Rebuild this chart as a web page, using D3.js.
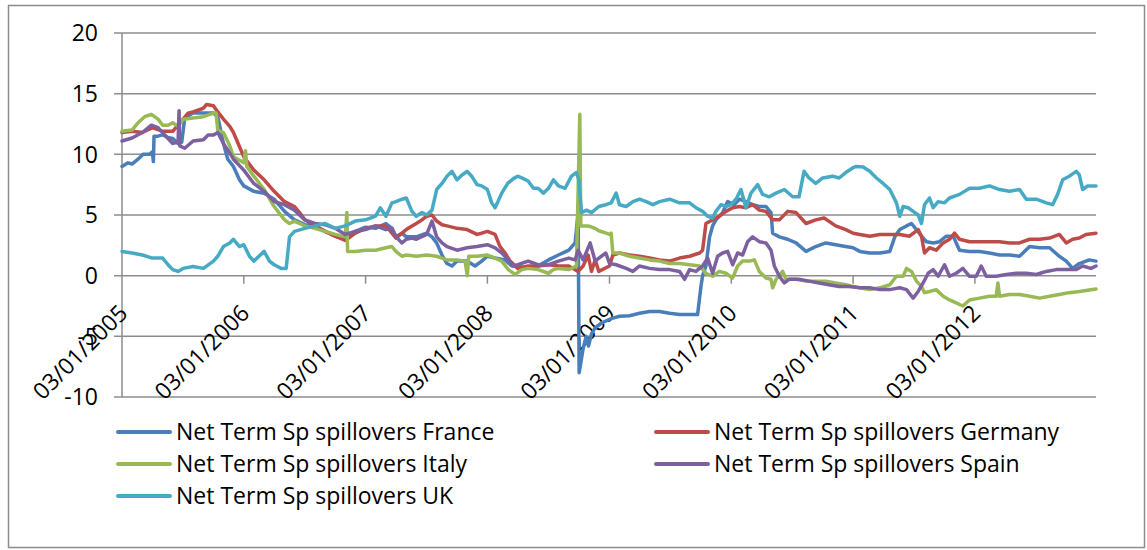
<!DOCTYPE html>
<html>
<head>
<meta charset="utf-8">
<script src="https://cdn.jsdelivr.net/npm/d3@7"></script>
<style>
  body { margin: 0; background: #fff; }
  text { font-family: "Open Sans", sans-serif; fill: #000; }
</style>
</head>
<body>
<div id="chart"></div>
<script>
// series names and colours (Excel 2007 default palette)
const seriesNames = ["Net Term Sp spillovers France", "Net Term Sp spillovers Germany",
  "Net Term Sp spillovers Italy", "Net Term Sp spillovers Spain", "Net Term Sp spillovers UK"];
const seriesColors = ["#4a7ebb", "#be4b48", "#98b954", "#7d60a0", "#46aac5"];

const yTicks = [-10, -5, 0, 5, 10, 15, 20];
const xTickYears = [2005, 2006, 2007, 2008, 2009, 2010, 2011, 2012];

// points are [years counted from 03/01/2005 (+2005), value]
const france = [
  [2005.000, 9.0], [2005.049, 9.3], [2005.082, 9.2], [2005.131, 9.6], [2005.172, 10.0], [2005.227, 10.0],
  [2005.249, 10.2], [2005.256, 9.4], [2005.262, 11.5], [2005.295, 11.5], [2005.333, 11.6], [2005.377, 11.4],
  [2005.415, 11.3], [2005.459, 10.9], [2005.490, 11.0], [2005.514, 13.0], [2005.582, 13.4], [2005.667, 13.4],
  [2005.749, 13.4], [2005.787, 13.1], [2005.833, 10.9], [2005.869, 9.6], [2005.915, 9.0], [2005.964, 7.9],
  [2006.000, 7.4], [2006.082, 6.95], [2006.167, 6.8], [2006.249, 6.3], [2006.333, 5.3], [2006.415, 4.6],
  [2006.500, 4.2], [2006.582, 4.1], [2006.667, 3.65], [2006.749, 3.25], [2006.833, 3.0], [2006.915, 3.65],
  [2007.000, 4.0], [2007.082, 3.9], [2007.167, 4.3], [2007.216, 3.9], [2007.249, 3.2], [2007.298, 3.5],
  [2007.333, 3.2], [2007.415, 3.2], [2007.500, 3.5], [2007.544, 3.2], [2007.582, 2.7], [2007.626, 1.7],
  [2007.667, 1.0], [2007.708, 0.8], [2007.749, 1.2], [2007.833, 1.2], [2007.899, 0.8], [2007.954, 1.2],
  [2008.000, 1.6], [2008.063, 1.45], [2008.145, 1.3], [2008.199, 0.8], [2008.249, 0.8], [2008.333, 0.6],
  [2008.415, 0.8], [2008.500, 1.3], [2008.582, 1.7], [2008.667, 2.1], [2008.719, 2.7], [2008.746, 5.2],
  [2008.752, -8.0], [2008.760, -7.5], [2008.787, -6.0], [2008.810, -5.0], [2008.830, -5.8], [2008.855, -4.8],
  [2008.883, -4.3], [2008.937, -3.9], [2009.000, -3.6], [2009.027, -3.5], [2009.082, -3.35], [2009.164, -3.3],
  [2009.246, -3.1], [2009.328, -2.95], [2009.410, -2.95], [2009.492, -3.1], [2009.574, -3.2], [2009.656, -3.2],
  [2009.724, -3.2], [2009.751, -0.9], [2009.765, 0.0], [2009.792, 0.8], [2009.820, 3.2], [2009.847, 4.1],
  [2009.874, 4.6], [2009.929, 5.2], [2009.970, 6.1], [2010.025, 5.85], [2010.066, 6.3], [2010.120, 6.1],
  [2010.175, 5.85], [2010.230, 5.7], [2010.284, 5.7], [2010.325, 5.2], [2010.339, 3.5], [2010.393, 3.2],
  [2010.462, 3.0], [2010.530, 2.7], [2010.612, 2.0], [2010.694, 2.4], [2010.776, 2.7], [2010.858, 2.55],
  [2010.940, 2.4], [2011.000, 2.3], [2011.055, 2.0], [2011.137, 1.87], [2011.219, 1.87], [2011.301, 2.0],
  [2011.342, 3.2], [2011.383, 3.8], [2011.437, 4.1], [2011.478, 4.3], [2011.519, 3.8], [2011.560, 3.25],
  [2011.601, 2.8], [2011.656, 2.7], [2011.710, 2.8], [2011.765, 3.25], [2011.820, 3.25], [2011.874, 2.1],
  [2011.956, 2.0], [2012.038, 2.0], [2012.120, 1.87], [2012.202, 1.7], [2012.284, 1.7], [2012.366, 1.6],
  [2012.448, 2.4], [2012.530, 2.3], [2012.612, 2.3], [2012.694, 1.6], [2012.749, 1.2], [2012.803, 0.6],
  [2012.858, 1.0], [2012.940, 1.3], [2012.995, 1.2]
];

const germany = [
  [2005.000, 11.8], [2005.082, 11.9], [2005.167, 11.8], [2005.249, 12.2], [2005.333, 11.9], [2005.415, 11.9],
  [2005.500, 12.9], [2005.541, 13.4], [2005.582, 13.5], [2005.667, 13.8], [2005.694, 14.1], [2005.749, 14.0],
  [2005.787, 13.5], [2005.833, 12.9], [2005.883, 12.3], [2005.915, 11.8], [2006.000, 9.8], [2006.082, 8.7],
  [2006.167, 7.9], [2006.249, 6.95], [2006.333, 6.1], [2006.415, 5.7], [2006.456, 5.2], [2006.500, 4.6],
  [2006.582, 4.1], [2006.667, 3.65], [2006.749, 3.25], [2006.833, 2.9], [2006.915, 3.5], [2007.000, 3.9],
  [2007.082, 4.1], [2007.167, 4.1], [2007.216, 3.5], [2007.249, 3.1], [2007.298, 3.5], [2007.333, 3.8],
  [2007.380, 4.1], [2007.415, 4.3], [2007.462, 4.6], [2007.500, 4.9], [2007.544, 5.0], [2007.582, 4.5],
  [2007.626, 4.2], [2007.667, 4.1], [2007.749, 3.9], [2007.833, 3.8], [2007.915, 3.4], [2007.954, 3.5],
  [2008.000, 3.65], [2008.063, 3.4], [2008.104, 2.4], [2008.145, 1.87], [2008.186, 1.2], [2008.249, 0.6],
  [2008.333, 0.8], [2008.415, 0.8], [2008.500, 0.9], [2008.582, 0.8], [2008.667, 0.8], [2008.746, 0.35],
  [2008.787, 0.8], [2008.828, 1.7], [2008.855, 0.35], [2008.883, 1.3], [2008.915, 0.35], [2009.000, 0.8],
  [2009.027, 1.7], [2009.082, 1.87], [2009.164, 1.7], [2009.246, 1.6], [2009.328, 1.45], [2009.410, 1.3],
  [2009.492, 1.2], [2009.574, 1.45], [2009.656, 1.6], [2009.738, 1.87], [2009.765, 2.1], [2009.792, 4.3],
  [2009.847, 4.6], [2009.902, 4.9], [2009.956, 5.3], [2010.011, 5.6], [2010.066, 5.7], [2010.120, 5.6],
  [2010.175, 5.85], [2010.230, 5.4], [2010.284, 5.3], [2010.339, 4.6], [2010.393, 4.6], [2010.462, 5.3],
  [2010.530, 5.2], [2010.612, 4.3], [2010.694, 4.6], [2010.762, 4.75], [2010.858, 4.1], [2010.940, 3.8],
  [2011.000, 3.5], [2011.055, 3.4], [2011.137, 3.25], [2011.219, 3.4], [2011.301, 3.4], [2011.383, 3.4],
  [2011.464, 3.25], [2011.533, 3.8], [2011.560, 3.25], [2011.587, 1.87], [2011.628, 2.3], [2011.683, 2.1],
  [2011.738, 2.7], [2011.792, 3.0], [2011.833, 3.5], [2011.874, 3.0], [2011.956, 2.8], [2012.038, 2.8],
  [2012.120, 2.8], [2012.202, 2.8], [2012.284, 2.7], [2012.366, 2.7], [2012.448, 3.0], [2012.530, 3.0],
  [2012.612, 3.1], [2012.694, 3.4], [2012.749, 2.7], [2012.803, 3.0], [2012.858, 3.1], [2012.913, 3.4],
  [2012.995, 3.5]
];

const italy = [
  [2005.000, 11.9], [2005.082, 12.0], [2005.131, 12.6], [2005.186, 13.1], [2005.240, 13.3], [2005.295, 12.9],
  [2005.333, 12.4], [2005.377, 12.4], [2005.415, 12.6], [2005.459, 12.3], [2005.500, 12.9], [2005.582, 13.0],
  [2005.667, 13.1], [2005.749, 13.4], [2005.773, 13.4], [2005.787, 12.0], [2005.833, 11.8], [2005.883, 10.7],
  [2005.915, 9.8], [2006.000, 9.3], [2006.015, 10.3], [2006.025, 9.0], [2006.082, 8.2], [2006.167, 7.1],
  [2006.249, 5.7], [2006.333, 4.6], [2006.374, 4.3], [2006.415, 4.5], [2006.500, 4.1], [2006.582, 3.9],
  [2006.667, 3.65], [2006.749, 3.4], [2006.833, 3.2], [2006.847, 5.2], [2006.852, 2.0], [2006.915, 2.0],
  [2007.000, 2.1], [2007.082, 2.1], [2007.167, 2.3], [2007.216, 2.4], [2007.249, 2.0], [2007.298, 1.6],
  [2007.333, 1.7], [2007.415, 1.6], [2007.500, 1.7], [2007.582, 1.6], [2007.626, 1.45], [2007.667, 1.3],
  [2007.749, 1.3], [2007.817, 1.2], [2007.835, 0.0], [2007.845, 1.6], [2007.915, 1.6], [2008.000, 1.7],
  [2008.063, 1.45], [2008.117, 1.2], [2008.172, 0.5], [2008.227, 0.1], [2008.281, 0.5], [2008.333, 0.6],
  [2008.415, 0.5], [2008.500, 0.2], [2008.541, 0.5], [2008.582, 0.6], [2008.667, 0.5], [2008.732, 0.8],
  [2008.758, 13.3], [2008.766, 4.1], [2008.828, 4.1], [2008.883, 3.9], [2008.915, 3.7], [2008.975, 3.5],
  [2009.000, 3.4], [2009.014, 3.5], [2009.027, 1.87], [2009.082, 1.87], [2009.164, 1.6], [2009.246, 1.45],
  [2009.328, 1.3], [2009.410, 1.2], [2009.492, 1.0], [2009.574, 1.0], [2009.656, 0.9], [2009.738, 0.8],
  [2009.792, 0.2], [2009.847, -0.05], [2009.902, 0.35], [2009.956, 0.2], [2010.011, -0.2], [2010.052, 0.8],
  [2010.093, 1.2], [2010.148, 1.2], [2010.189, 1.3], [2010.230, 0.35], [2010.284, -0.2], [2010.325, -0.3],
  [2010.339, -1.0], [2010.366, -0.3], [2010.421, 0.35], [2010.448, -0.3], [2010.530, -0.3], [2010.612, -0.45],
  [2010.694, -0.45], [2010.776, -0.45], [2010.858, -0.6], [2010.940, -0.75], [2011.008, -0.9], [2011.055, -1.0],
  [2011.137, -1.15], [2011.219, -1.0], [2011.301, -0.75], [2011.355, -0.05], [2011.410, -0.05], [2011.437, 0.6],
  [2011.478, 0.35], [2011.519, -0.45], [2011.560, -0.9], [2011.587, -1.4], [2011.628, -1.3], [2011.683, -1.15],
  [2011.738, -1.7], [2011.792, -2.0], [2011.847, -2.25], [2011.902, -2.5], [2011.956, -2.0], [2012.038, -1.85],
  [2012.120, -1.7], [2012.175, -1.7], [2012.189, -0.6], [2012.202, -1.7], [2012.284, -1.55], [2012.366, -1.55],
  [2012.448, -1.7], [2012.530, -1.85], [2012.612, -1.7], [2012.694, -1.55], [2012.776, -1.4], [2012.858, -1.3],
  [2012.995, -1.1]
];

const spain = [
  [2005.000, 11.1], [2005.082, 11.35], [2005.167, 11.8], [2005.240, 12.4], [2005.295, 12.2], [2005.377, 11.3],
  [2005.415, 10.9], [2005.460, 11.0], [2005.467, 13.6], [2005.473, 10.7], [2005.514, 10.5], [2005.582, 11.1],
  [2005.667, 11.2], [2005.705, 11.6], [2005.749, 11.6], [2005.787, 11.8], [2005.833, 10.9], [2005.883, 10.1],
  [2005.915, 9.6], [2006.000, 8.7], [2006.082, 7.6], [2006.167, 6.95], [2006.249, 6.1], [2006.333, 5.85],
  [2006.415, 5.4], [2006.500, 4.6], [2006.582, 4.3], [2006.667, 4.2], [2006.749, 3.9], [2006.833, 3.4],
  [2006.915, 3.65], [2007.000, 3.8], [2007.082, 4.1], [2007.167, 3.8], [2007.216, 3.9], [2007.249, 3.2],
  [2007.298, 2.7], [2007.333, 3.0], [2007.380, 3.1], [2007.415, 3.0], [2007.500, 3.4], [2007.544, 4.5],
  [2007.582, 3.2], [2007.626, 2.7], [2007.667, 2.4], [2007.749, 2.1], [2007.833, 2.3], [2007.915, 2.4],
  [2008.000, 2.55], [2008.063, 2.3], [2008.117, 1.87], [2008.172, 1.3], [2008.213, 0.8], [2008.249, 0.9],
  [2008.333, 1.2], [2008.415, 0.9], [2008.500, 0.9], [2008.582, 1.2], [2008.667, 1.45], [2008.719, 1.3],
  [2008.746, 2.1], [2008.787, 1.3], [2008.842, 2.7], [2008.883, 1.2], [2008.915, 1.45], [2008.973, 1.87],
  [2009.000, 1.0], [2009.055, 0.9], [2009.137, 0.6], [2009.191, 0.35], [2009.246, 0.8], [2009.328, 0.6],
  [2009.410, 0.5], [2009.492, 0.5], [2009.574, 0.35], [2009.615, -0.3], [2009.656, 0.5], [2009.710, 0.35],
  [2009.765, 0.8], [2009.806, 1.45], [2009.847, 0.2], [2009.888, 1.6], [2009.929, 1.87], [2009.970, 2.0],
  [2010.011, 0.9], [2010.052, 1.87], [2010.093, 1.7], [2010.134, 2.8], [2010.175, 3.2], [2010.230, 2.8],
  [2010.284, 2.7], [2010.325, 2.1], [2010.352, 0.8], [2010.393, -0.05], [2010.434, -0.6], [2010.475, -0.3],
  [2010.557, -0.3], [2010.639, -0.45], [2010.721, -0.6], [2010.803, -0.75], [2010.885, -0.9], [2010.967, -0.9],
  [2011.055, -1.0], [2011.137, -1.0], [2011.219, -1.15], [2011.301, -1.15], [2011.383, -1.0], [2011.437, -1.15],
  [2011.492, -1.85], [2011.533, -1.3], [2011.574, -0.6], [2011.615, 0.2], [2011.656, 0.5], [2011.697, -0.05],
  [2011.751, 0.9], [2011.792, -0.05], [2011.847, 0.2], [2011.902, 0.6], [2011.956, -0.05], [2012.011, -0.05],
  [2012.052, 0.8], [2012.093, -0.05], [2012.175, -0.05], [2012.257, 0.1], [2012.339, 0.2], [2012.421, 0.2],
  [2012.503, 0.1], [2012.585, 0.35], [2012.667, 0.5], [2012.749, 0.5], [2012.831, 0.5], [2012.885, 0.8],
  [2012.954, 0.6], [2012.995, 0.8]
];

const uk = [
  [2005.000, 2.0], [2005.082, 1.87], [2005.167, 1.7], [2005.249, 1.45], [2005.333, 1.45], [2005.377, 0.9],
  [2005.415, 0.5], [2005.459, 0.35], [2005.500, 0.6], [2005.582, 0.75], [2005.667, 0.6], [2005.749, 1.2],
  [2005.787, 1.6], [2005.833, 2.4], [2005.883, 2.7], [2005.915, 3.0], [2005.964, 2.4], [2006.000, 2.55],
  [2006.046, 1.6], [2006.082, 1.2], [2006.167, 2.0], [2006.210, 1.2], [2006.249, 0.9], [2006.306, 0.6],
  [2006.347, 0.6], [2006.374, 3.2], [2006.415, 3.65], [2006.500, 3.9], [2006.582, 4.1], [2006.667, 4.3],
  [2006.749, 3.9], [2006.833, 4.1], [2006.915, 4.5], [2007.000, 4.6], [2007.082, 4.9], [2007.120, 5.6],
  [2007.167, 4.9], [2007.216, 6.0], [2007.249, 6.1], [2007.298, 6.3], [2007.333, 6.4], [2007.380, 5.3],
  [2007.415, 4.9], [2007.462, 5.2], [2007.500, 5.0], [2007.544, 5.4], [2007.582, 7.1], [2007.626, 7.6],
  [2007.667, 8.2], [2007.708, 8.6], [2007.749, 7.9], [2007.790, 8.3], [2007.833, 8.6], [2007.872, 8.2],
  [2007.915, 7.5], [2007.954, 7.4], [2008.000, 7.1], [2008.036, 6.0], [2008.063, 5.6], [2008.082, 6.0],
  [2008.117, 6.8], [2008.167, 7.6], [2008.213, 8.0], [2008.249, 8.2], [2008.295, 8.0], [2008.333, 7.8],
  [2008.377, 7.2], [2008.415, 7.2], [2008.459, 6.8], [2008.500, 7.2], [2008.541, 7.9], [2008.582, 7.4],
  [2008.637, 7.2], [2008.691, 8.2], [2008.732, 8.5], [2008.751, 7.9], [2008.773, 5.2], [2008.814, 5.4],
  [2008.855, 5.2], [2008.915, 5.7], [2008.973, 5.85], [2009.014, 6.0], [2009.055, 6.8], [2009.082, 5.85],
  [2009.137, 5.7], [2009.191, 6.1], [2009.246, 6.3], [2009.301, 6.1], [2009.355, 5.85], [2009.410, 6.1],
  [2009.492, 6.3], [2009.574, 6.0], [2009.656, 6.0], [2009.710, 5.6], [2009.765, 5.3], [2009.806, 4.9],
  [2009.847, 4.75], [2009.874, 5.3], [2009.915, 5.85], [2009.956, 5.7], [2009.997, 5.85], [2010.038, 6.3],
  [2010.079, 7.1], [2010.120, 5.6], [2010.161, 6.8], [2010.216, 7.5], [2010.257, 6.7], [2010.311, 6.5],
  [2010.366, 6.8], [2010.434, 7.1], [2010.503, 6.5], [2010.557, 6.5], [2010.598, 8.6], [2010.639, 8.05],
  [2010.694, 7.6], [2010.749, 8.05], [2010.831, 8.2], [2010.885, 8.05], [2010.940, 8.5], [2011.000, 8.9],
  [2011.027, 9.0], [2011.082, 8.95], [2011.137, 8.6], [2011.191, 8.05], [2011.246, 7.6], [2011.301, 7.1],
  [2011.355, 6.0], [2011.383, 4.9], [2011.410, 5.7], [2011.451, 5.6], [2011.492, 5.3], [2011.533, 5.0],
  [2011.560, 4.3], [2011.587, 5.85], [2011.628, 6.4], [2011.656, 5.6], [2011.697, 6.1], [2011.751, 6.0],
  [2011.792, 6.4], [2011.874, 6.7], [2011.956, 7.2], [2012.038, 7.2], [2012.120, 7.4], [2012.202, 7.1],
  [2012.284, 6.95], [2012.366, 7.1], [2012.421, 6.3], [2012.503, 6.3], [2012.585, 6.0], [2012.639, 5.85],
  [2012.680, 6.7], [2012.721, 7.9], [2012.776, 8.2], [2012.831, 8.6], [2012.858, 8.3], [2012.885, 7.1],
  [2012.926, 7.4], [2012.995, 7.4]
];

const allSeries = [france, germany, italy, spain, uk];

// turn "2005.xxx" into a real date, counting from 3 January
function toDate(t) {
  let year = Math.floor(t);
  return d3.timeDay.offset(new Date(year, 0, 3), Math.round((t - year) * 365.25));
}

const width = 1147, height = 550;
const margin = { top: 33, left: 122, right: 51, bottom: 153 };
const fontSize = 23;

const svg = d3.select("#chart").append("svg")
  .attr("width", width)
  .attr("height", height);

svg.append("rect")
  .attr("x", 8.5).attr("y", 5.5)
  .attr("width", 1136).attr("height", 542)
  .attr("fill", "#fff")
  .attr("stroke", "#8c8c8c")
  .attr("stroke-width", 1.5);

const x = d3.scaleTime()
  .domain([new Date(2005, 0, 3), toDate(2012.995)])
  .range([margin.left, width - margin.right]);

const y = d3.scaleLinear()
  .domain([-10, 20])
  .range([height - margin.bottom, margin.top]);

// horizontal gridlines with short ticks on the left
svg.append("g").selectAll("line")
  .data(yTicks)
  .join("line")
  .attr("x1", margin.left - 8)
  .attr("x2", width - margin.right)
  .attr("y1", d => y(d))
  .attr("y2", d => y(d))
  .attr("stroke", "#8c8c8c")
  .attr("stroke-width", 1.5);

// y axis line
svg.append("line")
  .attr("x1", margin.left).attr("x2", margin.left)
  .attr("y1", y(20)).attr("y2", y(-10))
  .attr("stroke", "#8c8c8c")
  .attr("stroke-width", 1.5);

svg.append("g").selectAll("text")
  .data(yTicks)
  .join("text")
  .attr("x", margin.left - 24)
  .attr("y", d => y(d))
  .attr("dy", "0.36em")
  .attr("text-anchor", "end")
  .attr("font-size", fontSize)
  .text(d => d);

// x axis (crosses at 0) with year ticks
const yearDates = xTickYears.map(yr => new Date(yr, 0, 3));

svg.append("g").selectAll("line")
  .data(yearDates.slice(1))
  .join("line")
  .attr("x1", d => x(d)).attr("x2", d => x(d))
  .attr("y1", y(0)).attr("y2", y(0) + 8)
  .attr("stroke", "#8c8c8c")
  .attr("stroke-width", 1.5);

svg.append("g").selectAll("text")
  .data(yearDates)
  .join("text")
  .attr("transform", d => "translate(" + (x(d) + 7) + "," + (y(0) + 39) + ") rotate(-45)")
  .attr("text-anchor", "end")
  .attr("font-size", fontSize)
  .text(d => d3.timeFormat("%d/%m/%Y")(d));

// the series lines
const line = d3.line()
  .x(d => x(toDate(d[0])))
  .y(d => y(d[1]));

svg.append("g").selectAll("path")
  .data(allSeries)
  .join("path")
  .attr("d", line)
  .attr("fill", "none")
  .attr("stroke", (d, i) => seriesColors[i])
  .attr("stroke-width", 3.5)
  .attr("stroke-linejoin", "round")
  .attr("stroke-linecap", "round");

// legend, two columns
const legendCols = [118, 656];
const legendRows = [432, 464, 496];

const legend = svg.append("g").selectAll("g")
  .data(seriesNames)
  .join("g")
  .attr("transform", (d, i) => "translate(" + legendCols[i % 2] + "," + legendRows[Math.floor(i / 2)] + ")");

legend.append("line")
  .attr("x1", 0).attr("x2", 52)
  .attr("stroke", (d, i) => seriesColors[i])
  .attr("stroke-width", 4)
  .attr("stroke-linecap", "round");

legend.append("text")
  .attr("x", 58)
  .attr("dy", "0.36em")
  .attr("font-size", fontSize)
  .text(d => d);
</script>
</body>
</html>
